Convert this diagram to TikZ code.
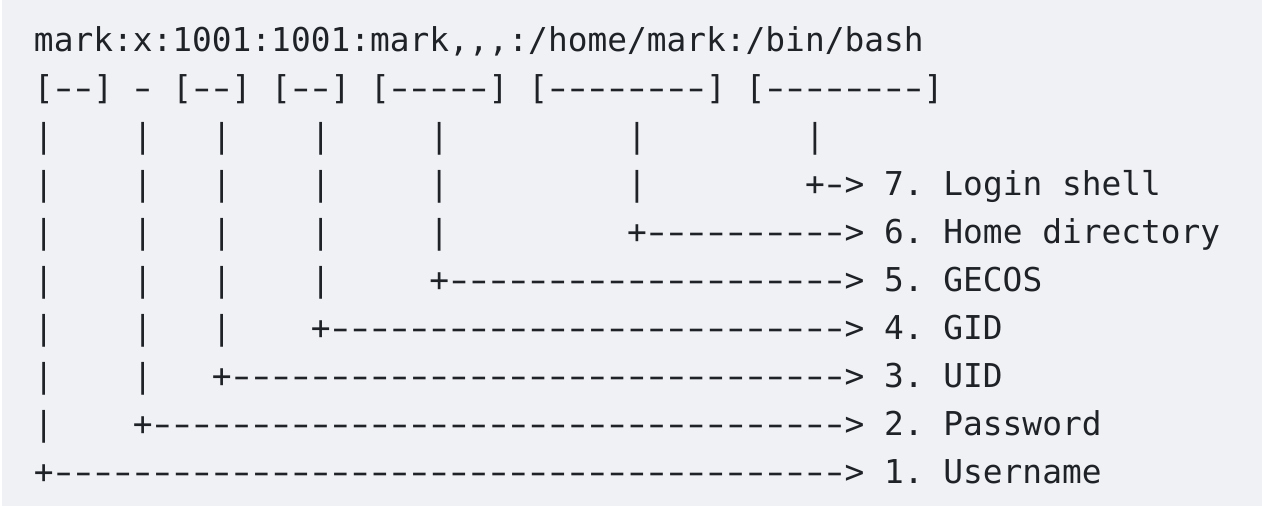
\documentclass[tikz,border=0pt]{standalone}
\usepackage{fontspec}
\usepackage{graphicx}
\setmonofont{DejaVu Sans Mono}
\definecolor{bgcol}{RGB}{240,241,245}
\definecolor{ink}{RGB}{31,35,40}
\ExplSyntaxOn
\NewDocumentCommand\myrep{mm}{\prg_replicate:nn{#1}{#2}}
\ExplSyntaxOff
\newcommand\spc[1]{\myrep{#1}{\ }}
\newcommand\hy{\makebox[0.602em][c]{\scalebox{1.5}[1]{-}}}
\newcommand\dsh[1]{\myrep{#1}{\hy}}
\begin{document}
\begin{tikzpicture}[x=1pt,y=-1pt,
  row/.style={anchor=base west,inner sep=0pt,outer sep=0pt,text=ink,
    font=\ttfamily\fontsize{32.84}{48}\selectfont}]
\useasboundingbox (0,0) rectangle (1262,506);
\fill[bgcol] (0,0) rectangle (1262,506);
\fill[white] (0,0) rectangle (2,506);
\node[row] (r1) at (34,51.5) {mark:x:1001:1001:mark,,,:/home/mark:/bin/bash};
\node[row] (r2) at (34,99.5) {[\dsh{2}]\spc{1}\hy\spc{1}[\dsh{2}]\spc{1}[\dsh{2}]\spc{1}[\dsh{5}]\spc{1}[\dsh{8}]\spc{1}[\dsh{8}]};
\node[row] (r3) at (34,147.5) {|\spc{4}|\spc{3}|\spc{4}|\spc{5}|\spc{9}|\spc{8}|};
\node[row] (r4) at (34,195.5) {|\spc{4}|\spc{3}|\spc{4}|\spc{5}|\spc{9}|\spc{8}+\dsh{1}>\spc{1}7.\spc{1}Login\spc{1}shell};
\node[row] (r5) at (34,243.5) {|\spc{4}|\spc{3}|\spc{4}|\spc{5}|\spc{9}+\dsh{10}>\spc{1}6.\spc{1}Home\spc{1}directory};
\node[row] (r6) at (34,291.5) {|\spc{4}|\spc{3}|\spc{4}|\spc{5}+\dsh{20}>\spc{1}5.\spc{1}GECOS};
\node[row] (r7) at (34,339.5) {|\spc{4}|\spc{3}|\spc{4}+\dsh{26}>\spc{1}4.\spc{1}GID};
\node[row] (r8) at (34,387.5) {|\spc{4}|\spc{3}+\dsh{31}>\spc{1}3.\spc{1}UID};
\node[row] (r9) at (34,435.5) {|\spc{4}+\dsh{35}>\spc{1}2.\spc{1}Password};
\node[row] (r10) at (34,483.5) {+\dsh{40}>\spc{1}1.\spc{1}Username};
\end{tikzpicture}
\end{document}
